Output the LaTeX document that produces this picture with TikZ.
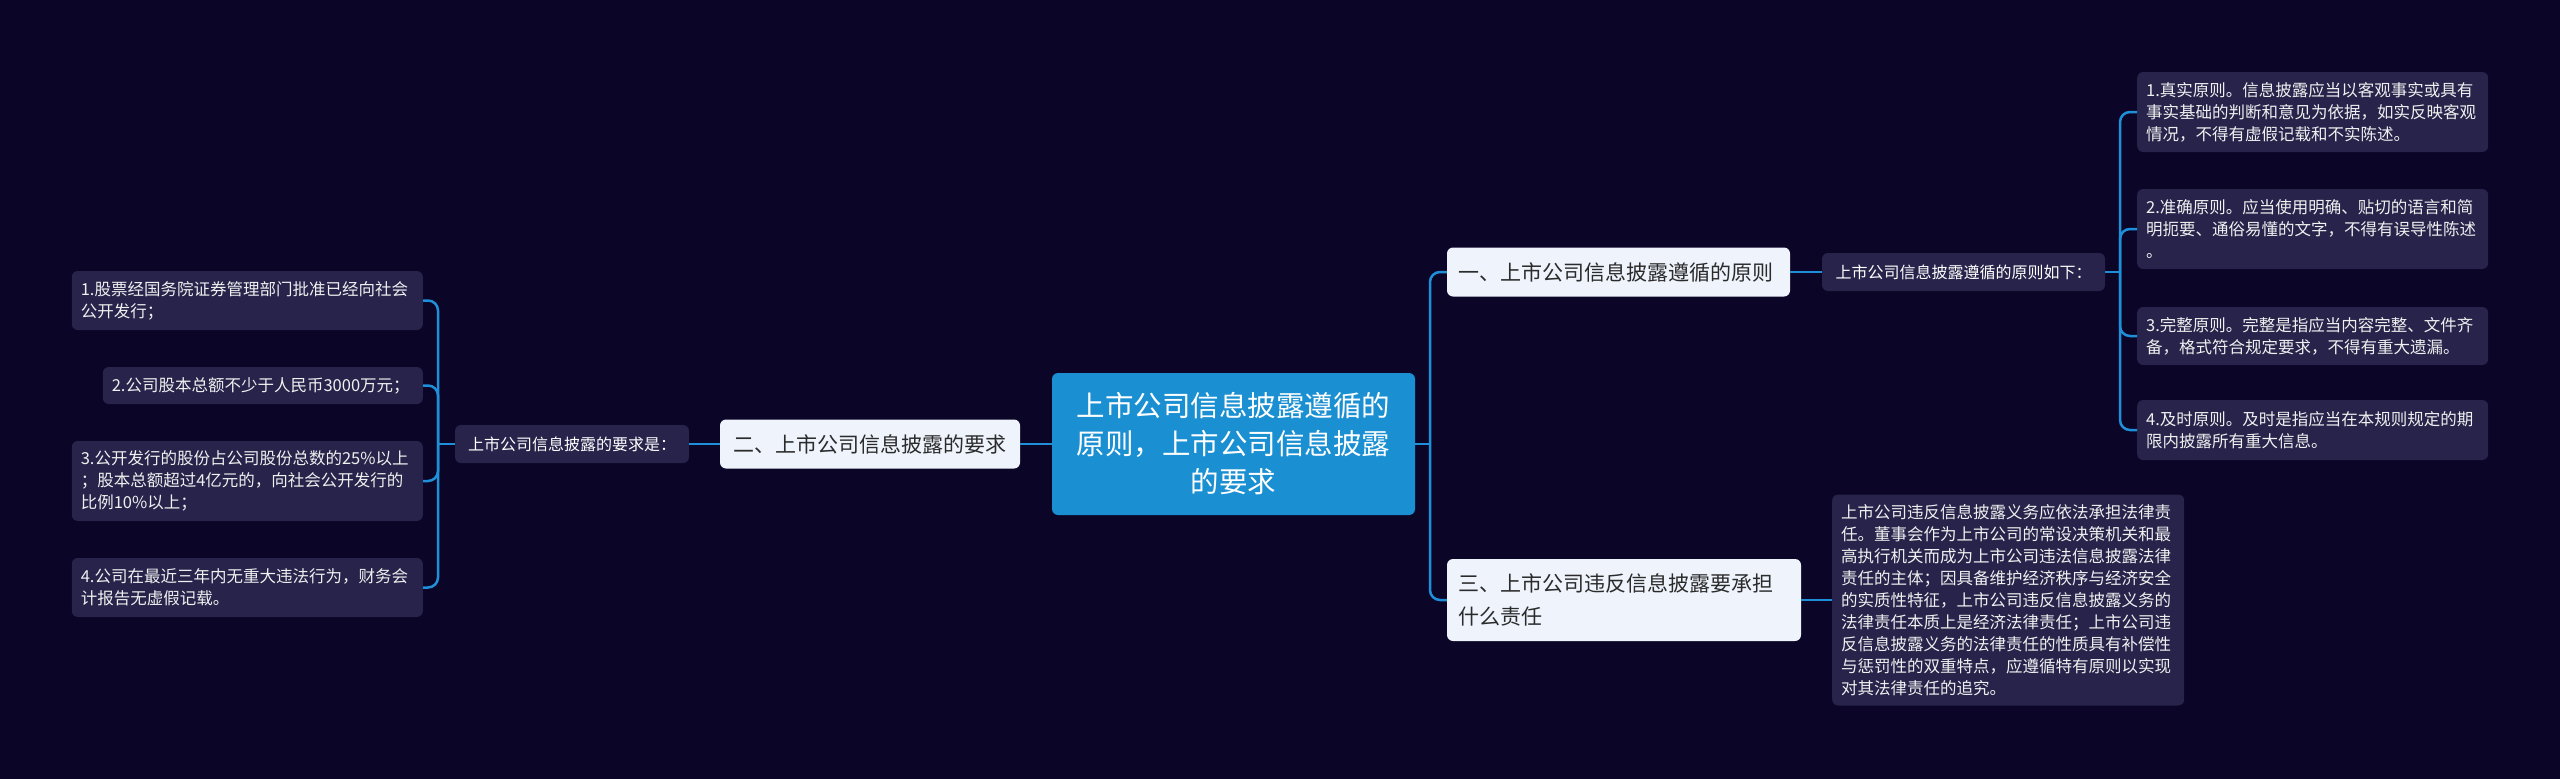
\documentclass[tikz,border=0pt]{standalone}
\usepackage{fontspec}
\setmainfont{Noto Sans CJK SC}
\definecolor{bgc}{HTML}{0B0627}
\definecolor{detailc}{HTML}{27234A}
\definecolor{branchc}{HTML}{EEF3FC}
\definecolor{rootc}{HTML}{1A8FD1}
\definecolor{connc}{HTML}{1E8FD8}
\definecolor{darktext}{HTML}{2B2B2B}
\begin{document}
\begin{tikzpicture}[x=1pt,y=-1pt,
  conn/.style={draw=connc, line width=2.5pt},
  bendconn/.style={conn, rounded corners=10pt},
  rootbox/.style={fill=rootc, rounded corners=6pt, text=white, align=center,
    font=\fontsize{28.5}{38}\selectfont, inner sep=0pt, minimum width=363pt, minimum height=142pt},
  branchbox/.style={fill=branchc, rounded corners=6pt, text=darktext, align=left,
    font=\fontsize{21}{33}\selectfont, inner xsep=11pt, inner ysep=0pt},
  subbox/.style={fill=detailc, rounded corners=6pt, text=white, align=center,
    font=\fontsize{16}{22}\selectfont, inner sep=0pt, minimum height=38pt},
  detailbox/.style={fill=detailc, rounded corners=6pt, text=white!94!black, align=left,
    font=\fontsize{16.5}{22}\selectfont, inner xsep=9pt, inner ysep=0pt}
]
\fill[bgc] (0,0) rectangle (2560,779);
\useasboundingbox (0,0) rectangle (2560,779);

% root
\node[rootbox] (c) at (1233.5,444) {上市公司信息披露遵循的\\原则，上市公司信息披露\\的要求};

% right branches
\node[branchbox, text width=321pt, minimum height=49pt] (b1) at (1618.5,272) {一、上市公司信息披露遵循的原则};
\node[branchbox, text width=332pt, minimum height=82pt] (b3) at (1624,600) {三、上市公司违反信息披露要承担\\什么责任};

% left branch
\node[branchbox, align=center, inner xsep=0pt, minimum width=300pt, minimum height=49pt] (b2) at (870,444) {二、上市公司信息披露的要求};

% sub nodes
\node[subbox, minimum width=283pt] (s1) at (1963.5,272) {上市公司信息披露遵循的原则如下：};
\node[subbox, minimum width=234pt] (s2) at (572,444) {上市公司信息披露的要求是：};

% right details
\node[detailbox, anchor=west, text width=333pt, minimum height=80pt] (r1) at (2137,112)
  {1.真实原则。信息披露应当以客观事实或具有\\事实基础的判断和意见为依据，如实反映客观\\情况，不得有虚假记载和不实陈述。};
\node[detailbox, anchor=west, text width=333pt, minimum height=80pt] (r2) at (2137,229)
  {2.准确原则。应当使用明确、贴切的语言和简\\明扼要、通俗易懂的文字，不得有误导性陈述\\。};
\node[detailbox, anchor=west, text width=333pt, minimum height=58pt] (r3) at (2137,336)
  {3.完整原则。完整是指应当内容完整、文件齐\\备，格式符合规定要求，不得有重大遗漏。};
\node[detailbox, anchor=west, text width=333pt, minimum height=60pt] (r4) at (2137,430)
  {4.及时原则。及时是指应当在本规则规定的期\\限内披露所有重大信息。};

\node[detailbox, anchor=west, text width=334pt, minimum height=211pt] (d3) at (1832,600)
  {上市公司违反信息披露义务应依法承担法律责\\任。董事会作为上市公司的常设决策机关和最\\高执行机关而成为上市公司违法信息披露法律\\责任的主体；因具备维护经济秩序与经济安全\\的实质性特征，上市公司违反信息披露义务的\\法律责任本质上是经济法律责任；上市公司违\\反信息披露义务的法律责任的性质具有补偿性\\与惩罚性的双重特点，应遵循特有原则以实现\\对其法律责任的追究。};

% left details
\node[detailbox, anchor=east, text width=333pt, minimum height=59pt] (l1) at (423,300.5)
  {1.股票经国务院证券管理部门批准已经向社会\\公开发行；};
\node[detailbox, anchor=east, text width=302pt, minimum height=37pt] (l2) at (423,385.5)
  {2.公司股本总额不少于人民币3000万元；};
\node[detailbox, anchor=east, text width=333pt, minimum height=80pt] (l3) at (423,481)
  {3.公开发行的股份占公司股份总数的25\%以上\\；股本总额超过4亿元的，向社会公开发行的\\比例10\%以上；};
\node[detailbox, anchor=east, text width=333pt, minimum height=59pt] (l4) at (423,587.5)
  {4.公司在最近三年内无重大违法行为，财务会\\计报告无虚假记载。};

% trunk coordinates
\coordinate (tR) at (1430,0);
\coordinate (tR2) at (2120,0);
\coordinate (tL) at (438,0);

% connectors right
\draw[conn] (c.east) -- (c.east -| tR);
\foreach \n in {b1,b3} \draw[bendconn] (c.east -| tR) -- (tR |- \n.west) -- (\n.west);
\draw[conn] (b1.east) -- (s1.west);
\draw[conn] (s1.east) -- (s1.east -| tR2);
\foreach \n in {r1,r2,r3,r4} \draw[bendconn] (s1.east -| tR2) -- (tR2 |- \n.west) -- (\n.west);
\draw[conn] (b3.east) -- (d3.west);

% connectors left
\draw[conn] (c.west) -- (b2.east);
\draw[conn] (b2.west) -- (s2.east);
\draw[conn] (s2.west) -- (s2.west -| tL);
\foreach \n in {l1,l2,l3,l4} \draw[bendconn] (s2.west -| tL) -- (tL |- \n.east) -- (\n.east);
\end{tikzpicture}
\end{document}
